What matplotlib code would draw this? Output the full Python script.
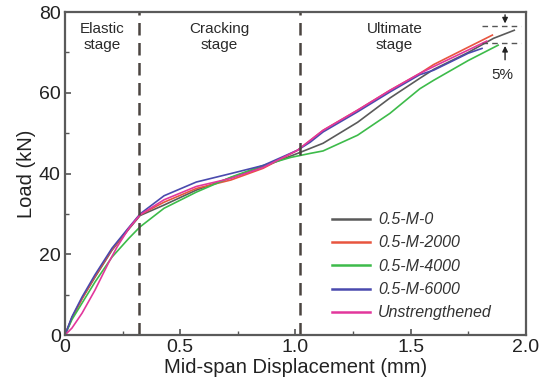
import numpy as np
import matplotlib
matplotlib.use('Agg')
from matplotlib import pyplot as plt

plt.rcParams['font.family'] = ['Liberation Sans', 'DejaVu Sans']

# series (displacement mm, load kN)
labels = ['0.5-M-0', '0.5-M-2000', '0.5-M-4000', '0.5-M-6000', 'Unstrengthened']
colors = ['#5a5a5a', '#e8553f', '#3dbb4a', '#4a4aae', '#e2379c']

x_m0 = [0, 0.03, 0.074, 0.13, 0.204, 0.278, 0.326, 0.43, 0.57, 0.72, 0.86, 1.01, 1.12, 1.27, 1.41, 1.54, 1.6, 1.75, 1.86, 1.95]
y_m0 = [0, 4.2, 9, 14.3, 21, 26.3, 29.6, 32.2, 35.9, 39, 41.7, 45, 47.5, 52.7, 58.7, 63.6, 65.8, 70, 73.5, 75.5]

x_m2000 = [0, 0.03, 0.074, 0.13, 0.204, 0.278, 0.326, 0.43, 0.57, 0.72, 0.86, 1.01, 1.12, 1.27, 1.41, 1.54, 1.6, 1.75, 1.855]
y_m2000 = [0, 4.2, 9, 14.5, 21.2, 26.5, 29.8, 32.9, 36.3, 38.4, 41.3, 45.8, 50.7, 55.7, 60.6, 64.8, 67, 71.3, 74.3]

x_m4000 = [0, 0.03, 0.074, 0.13, 0.204, 0.278, 0.326, 0.43, 0.57, 0.72, 0.86, 0.98, 1.065, 1.12, 1.27, 1.41, 1.54, 1.6, 1.75, 1.88]
y_m4000 = [0, 3.8, 7.9, 13.1, 19.3, 24, 26.8, 31.4, 35.4, 39.1, 42, 44, 45, 45.6, 49.5, 54.9, 61, 63.1, 68, 71.8]

x_m6000 = [0, 0.03, 0.074, 0.13, 0.204, 0.278, 0.326, 0.43, 0.57, 0.72, 0.86, 1.01, 1.065, 1.12, 1.27, 1.41, 1.54, 1.6, 1.75, 1.81]
y_m6000 = [0, 4.5, 9.4, 14.9, 21.5, 26.7, 30, 34.5, 37.9, 40, 42, 45.8, 47.8, 50.3, 55.3, 60.2, 64.5, 65.6, 69.8, 71]

x_un = [0, 0.03, 0.074, 0.13, 0.19, 0.226, 0.278, 0.326, 0.43, 0.57, 0.72, 0.86, 1.01, 1.12, 1.27, 1.41, 1.54, 1.6, 1.75, 1.83]
y_un = [0, 1.7, 5.4, 11.1, 18, 21.8, 26.5, 29.8, 33.5, 36.8, 38.8, 41.5, 45.8, 50.7, 55.7, 60.6, 64.8, 66.5, 70.6, 72.8]

stage_bounds = [0.32, 1.02]
stage_names = ['Elastic\nstage', 'Cracking\nstage', 'Ultimate\nstage']
stage_x = [0.16, 0.67, 1.43]
band = [76.5, 72.3]

fig = plt.figure(figsize=(5.46, 3.9), dpi=100)
ax = fig.add_axes([0.119, 0.141, 0.844, 0.828])

xs = [x_m0, x_m2000, x_m4000, x_m6000, x_un]
ys = [y_m0, y_m2000, y_m4000, y_m6000, y_un]
for xx, yy, c, lab in zip(xs, ys, colors, labels):
    ax.plot(xx, yy, color=c, lw=1.2, label=lab, solid_joinstyle='round')

for b in stage_bounds:
    ax.axvline(b, color='#4a4440', lw=1.8, ls=(0, (5, 3)))

for sx, name in zip(stage_x, stage_names):
    ax.text(sx, 77.6, name, ha='center', va='top', fontsize=11, color='#2a2a2a',
            linespacing=1.2)

# 5% band at the end
for b in band:
    ax.plot([1.81, 1.98], [b, b], color='#555555', lw=1, ls=(0, (4, 3)))
ax.annotate('', xy=(1.91, band[0]), xytext=(1.91, 80),
            arrowprops=dict(arrowstyle='-|>', color='#222222', lw=1, mutation_scale=8))
ax.annotate('', xy=(1.91, band[1]), xytext=(1.91, 67.5),
            arrowprops=dict(arrowstyle='-|>', color='#222222', lw=1, mutation_scale=8))
ax.text(1.90, 64.5, '5%', ha='center', va='center', fontsize=11, color='#2a2a2a')

ax.set_xlim(0, 2.0)
ax.set_ylim(0, 80)
ax.set_xticks([0, 0.5, 1.0, 1.5, 2.0])
ax.set_xticklabels(['0', '0.5', '1.0', '1.5', '2.0'])
ax.set_yticks([0, 20, 40, 60, 80])
ax.set_xticks([0.25, 0.75, 1.25, 1.75], minor=True)
ax.set_yticks([10, 30, 50, 70], minor=True)
ax.tick_params(which='both', direction='in', color='#555555', labelsize=14, labelcolor='#222222')
ax.tick_params(which='major', length=4, width=1.2, pad=3)
ax.tick_params(which='minor', length=3, width=1)
for s in ax.spines.values():
    s.set_color('#5a5a5a')
    s.set_linewidth(1.6)

ax.set_xlabel('Mid-span Displacement (mm)', fontsize=14.5, color='#222222', labelpad=1)
ax.set_ylabel('Load (kN)', fontsize=14.5, color='#222222', labelpad=2)

leg = ax.legend(loc='upper left', bbox_to_anchor=(0.555, 0.415), frameon=False,
                fontsize=11.5, handlelength=2.4, handletextpad=0.5,
                labelspacing=0.52, borderpad=0.2)
for t in leg.get_texts():
    t.set_fontstyle('italic')
    t.set_color('#333333')
for l in leg.get_lines():
    l.set_linewidth(1.8)

fig.savefig('out.png', dpi=100)
